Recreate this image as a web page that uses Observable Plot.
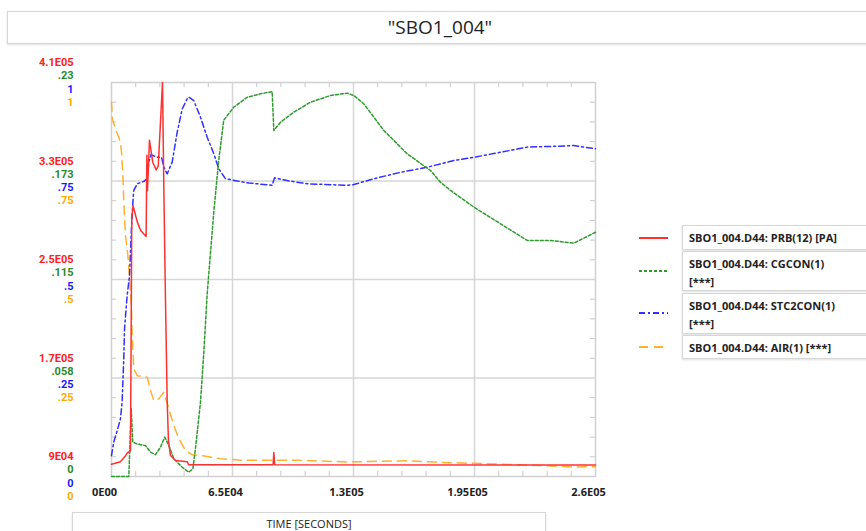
<!DOCTYPE html>
<html>
<head>
<meta charset="utf-8">
<script src="https://cdn.jsdelivr.net/npm/d3@7"></script>
<script src="https://cdn.jsdelivr.net/npm/@observablehq/plot@0.6"></script>
<style>
  html, body { margin: 0; padding: 0; background: #fff; }
  body { width: 866px; height: 531px; position: relative; overflow: hidden; font-family: "Open Sans", "DejaVu Sans", sans-serif; }
  #chart { position: absolute; left: 0; top: 0; }
  .box { position: absolute; background: #fff; border: 1px solid #d6d6d6; box-shadow: 0 1px 2px rgba(0,0,0,0.12); box-sizing: border-box; }
  #title { left: 7px; top: 11px; width: 866px; height: 33px; text-align: center; font-size: 19px; line-height: 31px; color: #222; }
  #xlabel { left: 72px; top: 512px; width: 474px; height: 30px; text-align: center; font-size: 11px; line-height: 22px; color: #222; }
  .leg { left: 682px; width: 200px; font-size: 11px; font-weight: 700; color: #222; padding: 3px 0 0 6px; line-height: 17.5px; white-space: nowrap; }
  .sample { position: absolute; left: 638px; }
</style>
</head>
<body>
<div id="title" class="box">"SBO1_004"</div>
<div id="chart"></div>
<div id="xlabel" class="box">TIME [SECONDS]</div>
<script>
// ---------- data ----------
const seriesNames = ["SBO1_004.D44: PRB(12) [PA]", "SBO1_004.D44: CGCON(1)\n[***]", "SBO1_004.D44: STC2CON(1)\n[***]", "SBO1_004.D44: AIR(1) [***]"];

const prbTime = [0, 4800, 7100, 8400, 10200, 10900, 11600, 13800, 15600, 18600, 19000, 19300, 20400, 22200, 24000, 25100, 27400, 28200, 29000, 29900, 30600, 31700, 34400, 40700, 41500, 86800, 87200, 87700, 260000];
const prbValue = [100000, 102000, 106000, 109000, 111000, 300000, 310000, 297000, 290000, 285000, 351000, 322000, 363000, 345000, 339000, 342000, 410000, 314000, 233000, 152000, 119000, 107000, 103000, 102000, 99500, 99500, 109500, 99500, 99300];

const cgTime = [0, 9300, 10600, 11400, 13800, 18300, 21000, 23600, 26300, 28600, 30800, 33500, 38000, 41500, 43700, 45100, 47800, 49600, 51400, 55000, 57600, 60300, 65700, 72900, 80000, 86300, 87200, 90800, 97900, 106900, 117600, 126600, 130200, 135500, 146300, 158800, 171400, 176700, 182100, 194600, 209000, 223300, 235800, 248300, 260000];
const cgValue = [0, 0, 0.0395, 0.020, 0.019, 0.018, 0.0142, 0.0127, 0.0171, 0.023, 0.0181, 0.0103, 0.0054, 0.0025, 0.0045, 0.0162, 0.0434, 0.0726, 0.1066, 0.155, 0.1845, 0.208, 0.2156, 0.2214, 0.2234, 0.2247, 0.202, 0.2068, 0.2127, 0.2185, 0.2224, 0.2238, 0.2224, 0.2176, 0.202, 0.1884, 0.1786, 0.1718, 0.167, 0.1573, 0.1475, 0.1378, 0.1378, 0.1362, 0.1426];

const stcTime = [0, 1200, 3100, 4800, 5700, 6600, 7000, 8400, 9700, 10700, 11700, 12000, 13800, 17400, 19200, 20000, 21300, 24500, 26900, 28100, 29900, 32600, 35300, 38000, 40700, 41500, 44200, 47800, 51400, 55000, 57600, 61200, 67500, 73800, 78300, 86300, 87600, 94400, 105100, 126600, 130200, 141100, 155200, 169600, 183900, 194600, 209000, 223300, 237600, 248300, 260000];
const stcValue = [0.053, 0.087, 0.117, 0.146, 0.189, 0.30, 0.375, 0.459, 0.51, 0.629, 0.713, 0.726, 0.743, 0.749, 0.756, 0.798, 0.817, 0.81, 0.81, 0.785, 0.768, 0.798, 0.874, 0.933, 0.959, 0.963, 0.954, 0.912, 0.861, 0.819, 0.781, 0.756, 0.75, 0.745, 0.743, 0.739, 0.758, 0.751, 0.743, 0.739, 0.741, 0.756, 0.772, 0.785, 0.802, 0.81, 0.823, 0.836, 0.838, 0.84, 0.832];

const airTime = [0, 400, 2100, 3900, 4800, 5400, 6100, 6600, 7500, 8800, 9700, 10700, 11100, 12000, 13800, 19200, 21000, 22700, 25400, 28100, 30800, 33500, 36200, 39800, 43400, 48700, 58600, 71100, 101500, 126600, 159000, 176700, 203600, 230500, 248300, 260000];
const airValue = [0.95, 0.91, 0.882, 0.861, 0.848, 0.823, 0.764, 0.70, 0.612, 0.561, 0.502, 0.434, 0.358, 0.273, 0.256, 0.252, 0.218, 0.193, 0.197, 0.214, 0.172, 0.129, 0.096, 0.066, 0.055, 0.053, 0.045, 0.041, 0.041, 0.037, 0.040, 0.036, 0.032, 0.028, 0.024, 0.025];

// axis ranges and tick labels
const prbDomain = [90000, 410000];
const cgDomain = [0, 0.23];
const stcDomain = [0, 1];
const airDomain = [0, 1];
const prbTicks = [90000, 170000, 250000, 330000, 410000];
const prbTickLabels = ["9E04", "1.7E05", "2.5E05", "3.3E05", "4.1E05"];
const cgTicks = [0, 0.0575, 0.115, 0.1725, 0.23];
const cgTickLabels = ["0", ".058", ".115", ".173", ".23"];
const stcTicks = [0, 0.25, 0.5, 0.75, 1];
const stcTickLabels = ["0", ".25", ".5", ".75", "1"];
const airTicks = [0, 0.25, 0.5, 0.75, 1];
const airTickLabels = ["0", ".25", ".5", ".75", "1"];
const xTicks = [0, 65000, 130000, 195000, 260000];
const xTickLabels = ["0E00", "6.5E04", "1.3E05", "1.95E05", "2.6E05"];

// ---------- build ----------
const colors = {prb: "#ff3030", cg: "#2f9a2f", stc: "#3030ff", air: "#ffb030"};
const labelColors = {prb: "#ff2020", cg: "#2a8a2a", stc: "#1a1aff", air: "#ffaa00"};

const norm = (dom) => (v) => (v - dom[0]) / (dom[1] - dom[0]);
const rows = (ts, vs, dom) => ts.map((t, i) => ({t, f: norm(dom)(vs[i])}));

const prbRows = rows(prbTime, prbValue, prbDomain);
const cgRows = rows(cgTime, cgValue, cgDomain);
const stcRows = rows(stcTime, stcValue, stcDomain);
const airRows = rows(airTime, airValue, airDomain);

const tickRows = (ticks, labels, dom) => ticks.map((v, i) => ({f: norm(dom)(v), label: labels[i]}));

const minorX = d3.range(0, 260001, 13000).filter(v => v % 65000 !== 0);
const minorY = d3.range(0, 1.0001, 0.05).map(v => +v.toFixed(2)).filter(v => Math.abs(v * 4 - Math.round(v * 4)) > 1e-6);
const gridX = xTicks.slice(1, -1);
const gridY = [0.25, 0.5, 0.75];

const tx = 2700, ty = 0.013;
const tickStroke = "#c8c8c8";
const yLabelFont = {fontSize: 11, fontWeight: 700, fontFamily: "Roboto"};
const xLabelFont = {fontSize: 11, fontWeight: 700, fontFamily: "Open Sans"};

const chart = Plot.plot({
  width: 866,
  height: 531,
  marginLeft: 111,
  marginRight: 271,
  marginTop: 82,
  marginBottom: 55,
  x: {domain: [0, 260000], axis: null},
  y: {domain: [0, 1], axis: null},
  style: {fontFamily: "Open Sans", background: "transparent"},
  marks: [
    Plot.ruleX(gridX, {stroke: "#d6d6d6", strokeWidth: 1.5}),
    Plot.ruleY(gridY, {stroke: "#d6d6d6", strokeWidth: 1.5}),
    Plot.ruleX(minorX, {x: d => d, y1: 0, y2: ty, stroke: tickStroke}),
    Plot.ruleX(minorX, {x: d => d, y1: 1 - ty, y2: 1, stroke: tickStroke}),
    Plot.ruleY(minorY, {y: d => d, x1: 0, x2: tx, stroke: tickStroke}),
    Plot.ruleY(minorY, {y: d => d, x1: 260000 - tx, x2: 260000, stroke: tickStroke}),
    Plot.frame({stroke: "#d0d0d0", strokeWidth: 1.5}),
    Plot.line(airRows, {x: "t", y: "f", stroke: colors.air, strokeWidth: 1.5, strokeDasharray: "9,6"}),
    Plot.line(stcRows, {x: "t", y: "f", stroke: colors.stc, strokeWidth: 1.5, strokeDasharray: "6,3,2,3"}),
    Plot.line(cgRows, {x: "t", y: "f", stroke: colors.cg, strokeWidth: 1.5, strokeDasharray: "3,2"}),
    Plot.line(prbRows, {x: "t", y: "f", stroke: colors.prb, strokeWidth: 1.5}),
    Plot.text(tickRows(prbTicks, prbTickLabels, prbDomain), {y: "f", text: "label", frameAnchor: "left", textAnchor: "end", dx: -38, dy: -19.8, fill: labelColors.prb, ...yLabelFont}),
    Plot.text(tickRows(cgTicks, cgTickLabels, cgDomain), {y: "f", text: "label", frameAnchor: "left", textAnchor: "end", dx: -38, dy: -6.6, fill: labelColors.cg, ...yLabelFont}),
    Plot.text(tickRows(stcTicks, stcTickLabels, stcDomain), {y: "f", text: "label", frameAnchor: "left", textAnchor: "end", dx: -38, dy: 6.6, fill: labelColors.stc, ...yLabelFont}),
    Plot.text(tickRows(airTicks, airTickLabels, airDomain), {y: "f", text: "label", frameAnchor: "left", textAnchor: "end", dx: -38, dy: 19.8, fill: labelColors.air, ...yLabelFont}),
    Plot.text(xTicks.map((v, i) => ({v, label: xTickLabels[i]})), {x: "v", text: "label", frameAnchor: "bottom", dy: 19, dx: -7, fill: "#222", ...xLabelFont})
  ]
});
document.getElementById("chart").appendChild(chart);

// ---------- legend ----------
const legendSpec = [
  {name: seriesNames[0], color: colors.prb, dash: null, top: 225, height: 25, sampleY: 238},
  {name: seriesNames[1], color: colors.cg, dash: "3,2", top: 251, height: 40, sampleY: 271},
  {name: seriesNames[2], color: colors.stc, dash: "6,3,2,3", top: 293, height: 41, sampleY: 313},
  {name: seriesNames[3], color: colors.air, dash: "9,6", top: 335, height: 24, sampleY: 347}
];
legendSpec.forEach(s => {
  const d = document.createElement("div");
  d.className = "box leg";
  d.style.top = s.top + "px";
  d.style.height = s.height + "px";
  s.name.split("\n").forEach((line, i) => {
    if (i > 0) d.appendChild(document.createElement("br"));
    d.appendChild(document.createTextNode(line));
  });
  document.body.appendChild(d);
  const svg = d3.create("svg").attr("class", "sample").attr("width", 32).attr("height", 6)
    .style("top", (s.sampleY - 3) + "px");
  const ln = svg.append("line").attr("x1", 1).attr("x2", 30).attr("y1", 3).attr("y2", 3)
    .attr("stroke", s.color).attr("stroke-width", 2);
  if (s.dash) ln.attr("stroke-dasharray", s.dash);
  document.body.appendChild(svg.node());
});
</script>
</body>
</html>
